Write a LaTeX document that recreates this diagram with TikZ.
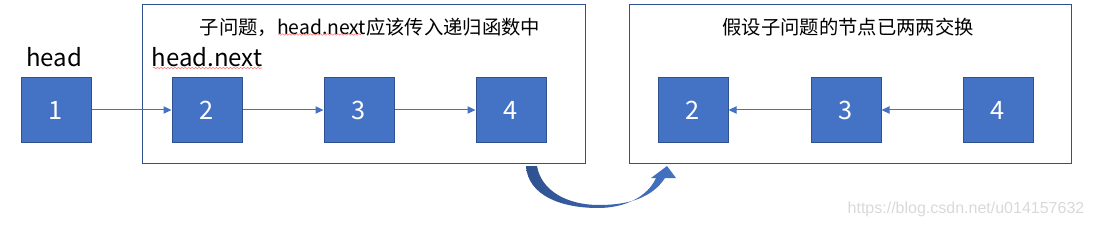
\documentclass[tikz,border=0pt]{standalone}
\usepackage{fontspec}
\setmainfont{Noto Sans CJK SC}
\newfontfamily\markfont{Liberation Sans}
\usetikzlibrary{arrows.meta,decorations.pathmorphing}
\definecolor{nodeblue}{HTML}{4472C4}
\definecolor{edgeblue}{HTML}{2F528F}
\tikzset{
  listnode/.style={draw=edgeblue,fill=nodeblue,line width=0.75pt,minimum width=52.5pt,
    minimum height=48pt,text=white,font=\fontsize{19}{22}\selectfont},
  subbox/.style={draw=edgeblue,line width=0.75pt},
  nextptr/.style={draw=nodeblue,line width=0.75pt,-{Triangle[length=6pt,width=5.5pt]}},
  spellmark/.style={draw=red!55,line width=0.4pt,decorate,
    decoration={snake,amplitude=0.6pt,segment length=2.6pt}}
}
\begin{document}
\begin{tikzpicture}[x=0.75pt,y=-0.75pt]
\useasboundingbox (0,0) rectangle (1093,228);
% the two sub problems
\draw[subbox] (142,5) rectangle (585,163);
\draw[subbox] (629,5) rectangle (1071,163);
\node[font=\fontsize{14.5}{17}\selectfont] (title1) at (370,27) {子问题，head.next应该传入递归函数中};
\node[font=\fontsize{14.5}{17}\selectfont] (title2) at (848,27) {假设子问题的节点已两两交换};
\draw[spellmark] (278,34.5) -- (361,34.5);
% before
\node[font=\fontsize{18}{21}\selectfont] (head) at (54,57) {head};
\node[font=\fontsize{18}{21}\selectfont] (headnext) at (207,57) {head.next};
\draw[spellmark] (153,68) -- (262,68);
\node[listnode] (a1) at (56,110) {1};
\node[listnode] (a2) at (207,110) {2};
\node[listnode] (a3) at (359,110) {3};
\node[listnode] (a4) at (511,110) {4};
\draw[nextptr] (a1) -- (a2);
\draw[nextptr] (a2) -- (a3);
\draw[nextptr] (a3) -- (a4);
% after
\node[listnode] (b2) at (693,110) {2};
\node[listnode] (b3) at (846,110) {3};
\node[listnode] (b4) at (998,110) {4};
\draw[nextptr] (b3) -- (b2);
\draw[nextptr] (b4) -- (b3);
% curved arrow
\shade[left color=edgeblue,right color=nodeblue,draw=none]
  (526,166) .. controls (528,196) and (562,208) .. (598,208)
  .. controls (626,208) and (648,196) .. (656,178)
  -- (651,178) -- (667,166) -- (676,178) -- (665,178)
  .. controls (652,198) and (628,205) .. (599,205)
  .. controls (566,205) and (541,190) .. (537,166) -- cycle;
\node[text=gray!30,font=\markfont\fontsize{12}{14}\selectfont] (mark) at (966,209) {https://blog.csdn.net/u014157632};
\end{tikzpicture}
\end{document}
